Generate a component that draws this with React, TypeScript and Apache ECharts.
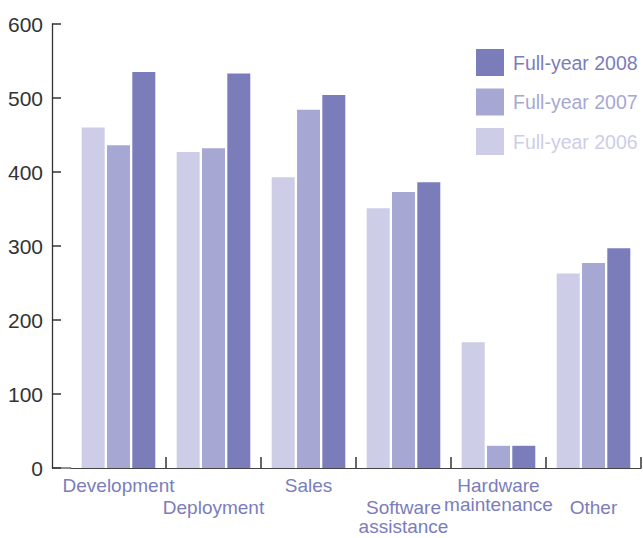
import React, { useEffect, useRef } from 'react';
import * as echarts from 'echarts';

const categories = ['Development', 'Deployment', 'Sales', 'Software\nassistance', 'Hardware\nmaintenance', 'Other'];
const seriesNames = ['Full-year 2006', 'Full-year 2007', 'Full-year 2008'];
const fy2006 = [460, 427, 393, 351, 170, 263];
const fy2007 = [436, 432, 484, 373, 30, 277];
const fy2008 = [535, 533, 504, 386, 30, 297];
const colors = ['#CDCDE7', '#A7A7D4', '#7B7DBB'];
const yMin = 0;
const yMax = 600;
const yStep = 100;

const FONT = 'Liberation Sans, Arial, sans-serif';

export default function App() {
  const ref = useRef<HTMLDivElement>(null);
  useEffect(() => {
    if (!ref.current) return;
    const chart = echarts.init(ref.current, null, { renderer: 'svg' });
    const data = [fy2006, fy2007, fy2008];
    chart.setOption({
      animation: false,
      grid: { left: 71, right: 2, top: 24, bottom: 70, containLabel: false, outerBoundsMode: 'none' },
      legend: {
        orient: 'vertical',
        left: 471,
        top: 44,
        itemWidth: 28,
        itemHeight: 27,
        itemGap: 12.5,
        icon: 'rect',
        selectedMode: false,
        textStyle: { fontSize: 19.5, fontFamily: FONT, padding: [4, 0, 0, 4] },
        data: [2, 1, 0].map((i) => ({ name: seriesNames[i], textStyle: { color: colors[i] } })),
      },
      xAxis: {
        type: 'category',
        data: categories,
        boundaryGap: true,
        axisLine: { show: true, lineStyle: { color: '#444', width: 1.2 } },
        axisTick: {
          show: true,
          inside: true,
          length: 11,
          interval: (index: number) => index !== 0,
          lineStyle: { color: '#333', width: 1.5 },
        },
        axisLabel: {
          interval: 0,
          margin: 8,
          fontSize: 19,
          lineHeight: 19,
          fontFamily: FONT,
          color: '#7B7DBB',
          hideOverlap: false,
          formatter: (v: string, i: number) => {
            const body = v
              .split('\n')
              .map((s) => '{t|' + s + '}')
              .join('\n');
            return i % 2 === 1 ? '{sp| }\n' + body : body;
          },
          rich: {
            t: { fontSize: 19, lineHeight: 19, fontFamily: FONT, color: '#7B7DBB' },
            sp: { fontSize: 19, lineHeight: 22, fontFamily: FONT },
          },
        },
        splitLine: { show: false },
      },
      yAxis: {
        type: 'value',
        min: yMin,
        max: yMax,
        interval: yStep,
        offset: 19,
        axisLine: { show: true, lineStyle: { color: '#333', width: 1.3 } },
        axisTick: { show: true, inside: true, length: 9, lineStyle: { color: '#333', width: 1.5 } },
        axisLabel: { fontSize: 21, fontFamily: FONT, color: '#333', margin: 9 },
        splitLine: { show: false },
      },
      graphic: [
        {
          type: 'line',
          shape: { x1: 52, y1: 468, x2: 71, y2: 468 },
          style: { stroke: '#444', lineWidth: 1.2 },
          silent: true,
        },
      ],
      series: data.map((d, i) => ({
        name: seriesNames[i],
        type: 'bar',
        data: d,
        barWidth: 23,
        barGap: '10%',
        itemStyle: { color: colors[i] },
      })),
    });
    return () => chart.dispose();
  }, []);
  return (
    <div
      ref={ref}
      style={{ position: 'absolute', left: 0, top: 0, width: 643, height: 538, background: '#fff' }}
    />
  );
}
